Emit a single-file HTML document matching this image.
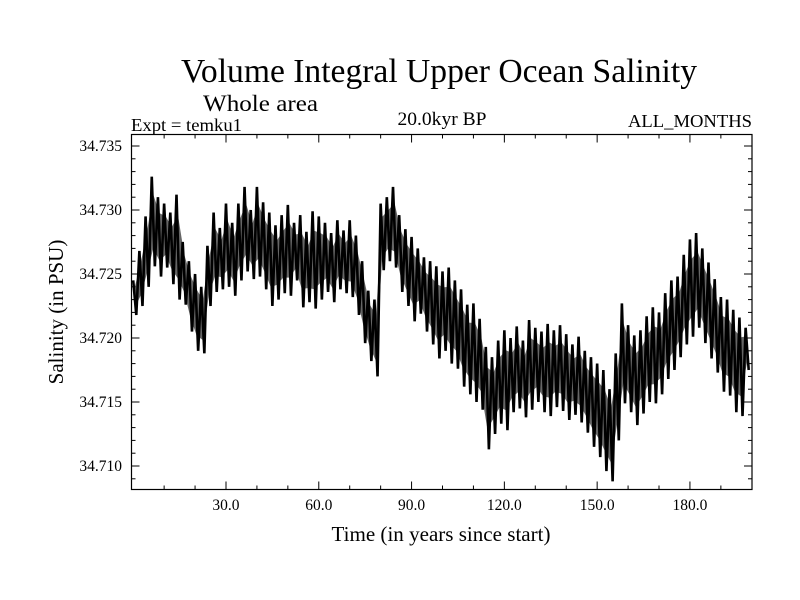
<!DOCTYPE html>
<html><head><meta charset="utf-8"><style>
html,body{margin:0;padding:0;background:#fff;}
svg{display:block;font-family:"Liberation Serif",serif;}
</style></head><body>
<svg id="chart" width="800" height="600" viewBox="0 0 800 600">
<text x="439" y="82" font-size="34" text-anchor="middle" textLength="516" lengthAdjust="spacingAndGlyphs">Volume Integral Upper Ocean Salinity</text>
<text x="203" y="111" font-size="23" textLength="115" lengthAdjust="spacingAndGlyphs">Whole area</text>
<text x="131" y="131" font-size="17.5" textLength="111" lengthAdjust="spacingAndGlyphs">Expt = temku1</text>
<text x="442" y="125" font-size="18.5" text-anchor="middle" textLength="89" lengthAdjust="spacingAndGlyphs">20.0kyr BP</text>
<text x="752" y="127" font-size="18" text-anchor="end" textLength="124" lengthAdjust="spacingAndGlyphs">ALL_MONTHS</text>
<text x="441" y="541" font-size="21" text-anchor="middle" textLength="219" lengthAdjust="spacingAndGlyphs">Time (in years since start)</text>
<text transform="translate(63,312) rotate(-90)" font-size="21" text-anchor="middle">Salinity (in PSU)</text>
<g id="ticks"></g>
<g id="series"></g>
<rect x="131.5" y="134.5" width="620.5" height="355" fill="none" stroke="#000" stroke-width="1.2"/>
</svg>
<script>
const yTickValues = [34.710, 34.715, 34.720, 34.725, 34.730, 34.735];
const yTickLabels = ["34.710", "34.715", "34.720", "34.725", "34.730", "34.735"];
const xTickValues = [30, 60, 90, 120, 150, 180];
const xTickLabels = ["30.0", "60.0", "90.0", "120.0", "150.0", "180.0"];
const years = [];
for (let i = 0; i < 200; i++) years.push(i);
const salinity = [
34.7245,34.7218,34.7268,34.7225,34.7295,34.7240,34.7326,34.7256,34.7310,34.7248,
34.7305,34.7255,34.7298,34.7242,34.7312,34.7230,34.7275,34.7226,34.7260,34.7205,
34.7250,34.7190,34.7240,34.7188,34.7272,34.7225,34.7298,34.7236,34.7286,34.7238,
34.7305,34.7240,34.7290,34.7233,34.7305,34.7245,34.7318,34.7252,34.7300,34.7246,
34.7318,34.7248,34.7306,34.7238,34.7298,34.7225,34.7288,34.7230,34.7296,34.7235,
34.7304,34.7233,34.7290,34.7245,34.7296,34.7224,34.7283,34.7228,34.7299,34.7223,
34.7295,34.7230,34.7290,34.7236,34.7282,34.7228,34.7292,34.7238,34.7284,34.7235,
34.7292,34.7232,34.7280,34.7218,34.7260,34.7196,34.7237,34.7182,34.7230,34.7170,
34.7305,34.7253,34.7310,34.7260,34.7318,34.7255,34.7296,34.7236,34.7285,34.7225,
34.7279,34.7213,34.7270,34.7219,34.7263,34.7205,34.7260,34.7195,34.7256,34.7184,
34.7252,34.7190,34.7255,34.7180,34.7245,34.7176,34.7238,34.7162,34.7226,34.7156,
34.7227,34.7150,34.7215,34.7144,34.7193,34.7113,34.7185,34.7125,34.7198,34.7133,
34.7206,34.7128,34.7200,34.7142,34.7209,34.7145,34.7198,34.7138,34.7214,34.7144,
34.7208,34.7150,34.7205,34.7142,34.7211,34.7139,34.7206,34.7146,34.7210,34.7143,
34.7203,34.7136,34.7195,34.7140,34.7201,34.7134,34.7190,34.7126,34.7185,34.7115,
34.7180,34.7107,34.7175,34.7096,34.7160,34.7088,34.7188,34.7120,34.7227,34.7149,
34.7210,34.7142,34.7202,34.7132,34.7206,34.7141,34.7217,34.7150,34.7224,34.7149,
34.7220,34.7156,34.7235,34.7168,34.7245,34.7175,34.7248,34.7185,34.7265,34.7195,
34.7277,34.7201,34.7282,34.7208,34.7270,34.7196,34.7259,34.7184,34.7246,34.7173,
34.7232,34.7158,34.7230,34.7155,34.7222,34.7142,34.7216,34.7139,34.7208,34.7175
];
const NS = "http://www.w3.org/2000/svg";
const L = 131.5, R = 752, T = 134.5, B = 489.5;
const X0 = 133.2, XS = 3.093;
const Y0 = 146, YV0 = 34.735, YS = 12800;
function xScale(t) { return X0 + XS * t; }
function yScale(v) { return Y0 + (YV0 - v) * YS; }
const tg = document.getElementById('ticks');
function line(x1, y1, x2, y2) {
  const l = document.createElementNS(NS, 'line');
  l.setAttribute('x1', x1); l.setAttribute('y1', y1);
  l.setAttribute('x2', x2); l.setAttribute('y2', y2);
  l.setAttribute('stroke', '#000'); l.setAttribute('stroke-width', '1');
  
  
  tg.appendChild(l);
}
for (let k = 0; k <= 28; k++) {
  const v = 34.708 + k * 0.001;
  const y = yScale(v);
  if (y < T || y > B) continue;
  const major = Math.abs(Math.round(v * 1000) % 5) === 0;
  const len = major ? 8 : 4;
  line(L, y, L + len, y);
  line(R, y, R - len, y);
}
for (let t = 10; t < 200; t += 10) {
  const x = xScale(t);
  const len = (t % 30 === 0) ? 8 : 4;
  line(x, B, x, B - len);
  line(x, T, x, T + len);
}
yTickValues.forEach((v, i) => {
  const tx = document.createElementNS(NS, 'text');
  tx.setAttribute('x', 122);
  tx.setAttribute('y', yScale(v) + 5);
  tx.setAttribute('font-size', '15.5');
  tx.setAttribute('text-anchor', 'end');
  tx.textContent = yTickLabels[i];
  
  
  tg.appendChild(tx);
});
xTickValues.forEach((v, i) => {
  const tx = document.createElementNS(NS, 'text');
  tx.setAttribute('x', xScale(v));
  tx.setAttribute('y', 510);
  tx.setAttribute('font-size', '15.5');
  tx.setAttribute('text-anchor', 'middle');
  tx.textContent = xTickLabels[i];
  
  
  tg.appendChild(tx);
});
const sg = document.getElementById('series');
// shaded core band derived from the series (peaks / troughs pulled inward)
const peaks = [], troughs = [];
for (let i = 0; i + 1 < salinity.length; i += 2) {
  const hi = Math.max(salinity[i], salinity[i + 1]);
  const lo = Math.min(salinity[i], salinity[i + 1]);
  const mid = (hi + lo) / 2;
  const x = xScale(years[i] + 0.5);
  peaks.push(x.toFixed(2) + ',' + yScale(mid + (hi - mid) * 0.6).toFixed(2));
  troughs.push(x.toFixed(2) + ',' + yScale(mid - (mid - lo) * 0.6).toFixed(2));
}
const band = document.createElementNS(NS, 'polygon');
band.setAttribute('points', peaks.concat(troughs.reverse()).join(' '));
band.setAttribute('fill', '#000');
band.setAttribute('fill-opacity', '0.6');


sg.appendChild(band);
const p = document.createElementNS(NS, 'polyline');
p.setAttribute('points', years.map((t, i) => xScale(t).toFixed(2) + ',' + yScale(salinity[i]).toFixed(2)).join(' '));
p.setAttribute('fill', 'none');
p.setAttribute('stroke', '#000');
p.setAttribute('stroke-width', '2.6');
p.setAttribute('stroke-linejoin', 'miter');
p.setAttribute('stroke-miterlimit', '2');


sg.appendChild(p);
</script>
</body></html>
